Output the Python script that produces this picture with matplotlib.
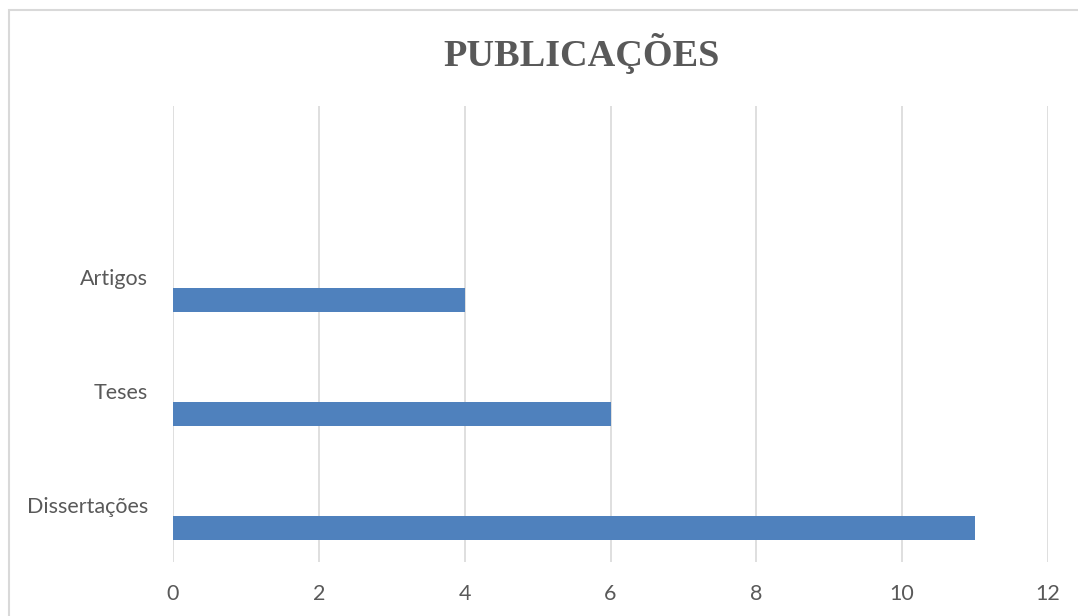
import matplotlib.pyplot as plt
import numpy as np
from matplotlib.patches import Rectangle

categories = ["Dissertações", "Teses", "Artigos", ""]
values = [11, 6, 4]
x_ticks = [0, 2, 4, 6, 8, 10, 12]

grey = "#595959"
grid_col = "#d9d9d9"
bar_col = "#4f81bd"

fig = plt.figure(figsize=(10.78, 6.16), dpi=100)
fig.patches.append(Rectangle((9 / 1078, -0.1), 1.2, 1 - 10 / 616 + 0.1,
                             transform=fig.transFigure, fill=False,
                             edgecolor=grid_col, linewidth=1.5))

ax = fig.add_axes([173 / 1078, 1 - 562 / 616, 875 / 1078, 456 / 616])
pos = np.arange(len(values))
ax.barh(pos - 0.2, values, height=0.206, color=bar_col, zorder=3)

ax.set_xlim(0, 12)
ax.set_ylim(-0.5, 3.5)
ax.set_xticks(x_ticks)
ax.set_xticklabels([str(t) for t in x_ticks])
ax.set_yticks(np.arange(len(categories)))
ax.set_yticklabels(categories)
ax.grid(axis="x", color=grid_col, linewidth=1.2, zorder=0)
for s in ax.spines.values():
    s.set_visible(False)
ax.tick_params(axis="both", length=0, labelcolor=grey, labelsize=15.5)
ax.tick_params(axis="x", pad=16)
ax.tick_params(axis="y", pad=18)
for lab in ax.get_xticklabels() + ax.get_yticklabels():
    lab.set_family("Lato")

fig.text(582 / 1078, 1 - 54 / 616, "PUBLICAÇÕES", ha="center", va="center",
         fontsize=27.5, fontweight="bold", color=grey, family="Liberation Serif")

fig.savefig("out.png", dpi=100)
